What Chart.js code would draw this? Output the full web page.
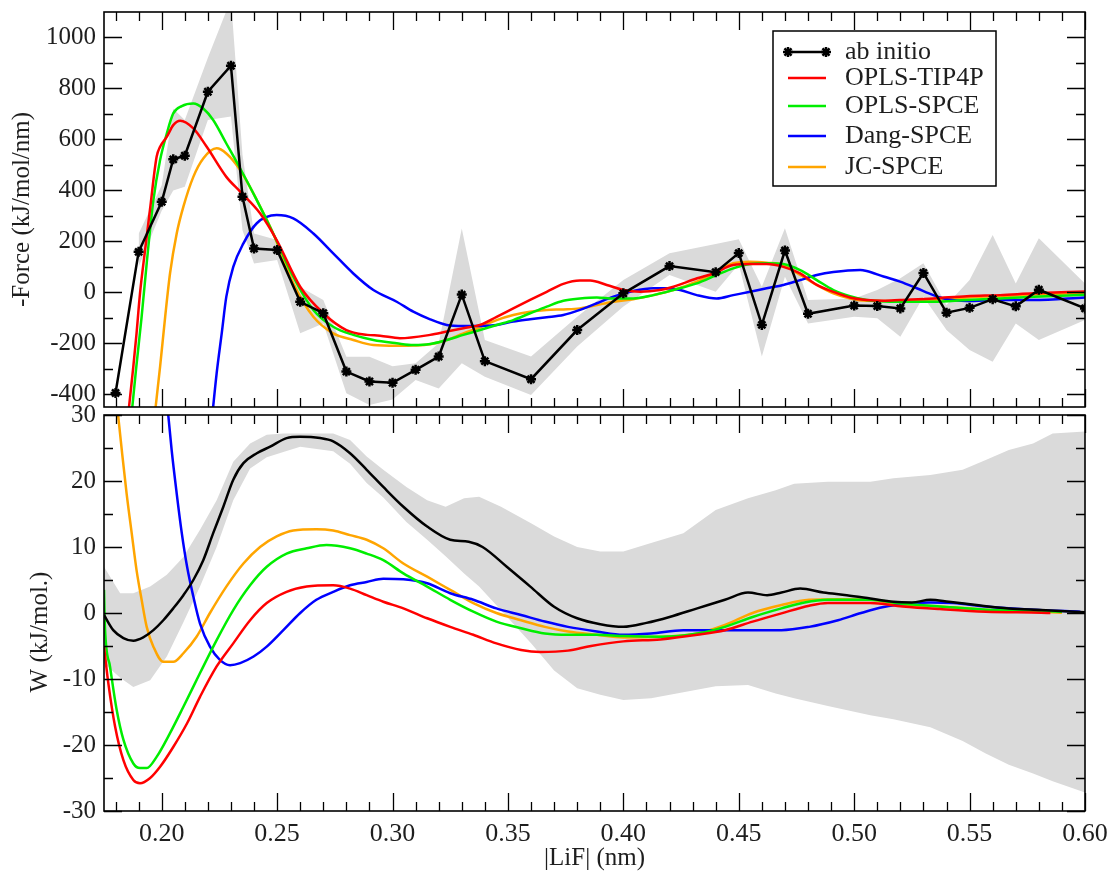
<!DOCTYPE html>
<html>
<head>
<meta charset="utf-8">
<script src="https://cdn.jsdelivr.net/npm/chart.js@4/dist/chart.umd.min.js"></script>
<style>
  html, body { margin: 0; padding: 0; background: #fff; width: 1111px; height: 871px; overflow: hidden; }
  #forceChart { position: absolute; left: 0; top: 0; }
  #pmfChart { position: absolute; left: 0; top: 395px; }
</style>
</head>
<body>
<canvas id="forceChart" width="1111" height="415"></canvas>
<canvas id="pmfChart" width="1111" height="476"></canvas>
<script>
// ---------------- tick values ----------------
const xTickValues = [0.20, 0.25, 0.30, 0.35, 0.40, 0.45, 0.50, 0.55, 0.60];
const xMinorTicks = [0.18, 0.19, 0.21, 0.22, 0.23, 0.24, 0.26, 0.27, 0.28, 0.29, 0.31, 0.32, 0.33, 0.34, 0.36, 0.37, 0.38, 0.39,
                     0.41, 0.42, 0.43, 0.44, 0.46, 0.47, 0.48, 0.49, 0.51, 0.52, 0.53, 0.54, 0.56, 0.57, 0.58, 0.59];
const forceTicks = [-400, -200, 0, 200, 400, 600, 800, 1000];
const forceMinorTicks = [-300, -100, 100, 300, 500, 700, 900];
const pmfTicks = [-30, -20, -10, 0, 10, 20, 30];
const pmfMinorTicks = [-25, -15, -5, 5, 15, 25];

// ---------------- series labels ----------------
const seriesLabels = ['ab initio', 'OPLS-TIP4P', 'OPLS-SPCE', 'Dang-SPCE', 'JC-SPCE'];

// ---------------- top panel: -Force (kJ/mol/nm) ----------------
const forceAbX = [0.18,0.19,0.20,0.205,0.21,0.22,0.23,0.235,0.24,0.25,0.26,0.27,0.28,0.29,0.30,0.31,0.32,0.33,0.34,0.36,0.38,0.40,0.42,0.44,0.45,0.46,0.47,0.48,0.50,0.51,0.52,0.53,0.54,0.55,0.56,0.57,0.58,0.60];
const forceAbY = [-395,159,355,522,536,787,889,375,172,166,-37,-82,-311,-350,-355,-304,-252,-9,-270,-341,-148,-4,103,79,154,-128,164,-84,-52,-54,-63,76,-80,-61,-27,-55,10,-63];

const forceBandX  = [0.19,0.20,0.205,0.21,0.22,0.23,0.235,0.24,0.25,0.26,0.27,0.28,0.29,0.30,0.31,0.32,0.33,0.34,0.36,0.38,0.40,0.42,0.44,0.45,0.46,0.47,0.48,0.50,0.51,0.52,0.53,0.54,0.55,0.56,0.57,0.58,0.60];
const forceBandHi = [230,420,720,676,920,1150,540,231,205,21,-30,-253,-253,-290,-278,-200,250,-187,-252,-96,48,153,190,208,22,251,-30,-24,9,55,114,-50,48,225,35,212,35];
const forceBandLo = [100,320,400,414,676,690,244,113,127,-161,-122,-396,-442,-421,-344,-377,-278,-331,-403,-213,-56,68,2,110,-252,61,-122,-96,-102,-174,-17,-148,-226,-272,-122,-187,-109];

const forceTip4pX = [0.185,0.1877,0.1891,0.1906,0.1928,0.1949,0.1978,0.1993,0.2022,0.205,0.208,0.2137,0.2195,0.228,0.234,0.2426,0.2498,0.26,0.27,0.28,0.289,0.2946,0.3032,0.3163,0.3235,0.3307,0.3379,0.3451,0.3523,0.3596,0.3668,0.374,0.3812,0.3856,0.3928,0.40,0.4073,0.4159,0.4217,0.432,0.439,0.4476,0.4549,0.4621,0.4693,0.4766,0.4838,0.491,0.4982,0.5054,0.5127,0.5199,0.5343,0.5488,0.5632,0.5777,0.60];
const forceTip4pY = [-520,-292,-161,-4,166,323,532,571,610,656,673,643,571,453,395,310,205,22,-82,-148,-167,-170,-180,-167,-154,-141,-128,-96,-63,-30,2,33,46,46,29,9,2,9,22,55,74,107,111,111,100,74,29,2,-20,-30,-33,-30,-24,-15,-11,-4,3];

const forceOplsSpceX = [0.1865,0.189,0.1913,0.1935,0.1964,0.1993,0.2022,0.205,0.2087,0.2137,0.218,0.2223,0.228,0.234,0.2412,0.2483,0.257,0.2657,0.2743,0.283,0.2917,0.3018,0.309,0.3163,0.3235,0.3307,0.3379,0.3451,0.3523,0.3596,0.3668,0.374,0.3812,0.3885,0.3957,0.4043,0.413,0.4217,0.4318,0.4404,0.4476,0.4549,0.4621,0.4693,0.4766,0.4838,0.491,0.4982,0.5054,0.5199,0.5343,0.5488,0.5632,0.5777,0.60];
const forceOplsSpceY = [-520,-292,-96,114,362,519,623,702,731,741,721,676,584,486,362,231,61,-69,-135,-167,-187,-200,-207,-203,-187,-167,-148,-128,-109,-82,-56,-33,-24,-20,-24,-24,-11,9,35,68,94,111,114,111,87,48,9,-15,-30,-37,-37,-30,-24,-17,-10];

const forceDangX = [0.2215,0.2238,0.226,0.228,0.231,0.2354,0.2412,0.2498,0.257,0.2657,0.2743,0.283,0.2917,0.3018,0.309,0.3163,0.3235,0.3307,0.3379,0.3451,0.3523,0.3596,0.3668,0.374,0.3812,0.3885,0.3957,0.4043,0.413,0.4188,0.4246,0.4318,0.4404,0.4476,0.4549,0.4621,0.4693,0.4766,0.4838,0.491,0.5026,0.5054,0.5127,0.5199,0.5271,0.5343,0.5401,0.5488,0.5632,0.5777,0.60];
const forceDangY = [-520,-318,-161,-17,100,192,271,303,290,231,153,74,9,-37,-76,-106,-128,-132,-132,-128,-115,-106,-98,-89,-69,-43,-17,5,16,16,9,-11,-24,-11,2,16,29,48,68,80,88,84,62,42,16,-11,-27,-34,-30,-30,-20];

const forceJcX = [0.1965,0.1993,0.2015,0.2036,0.2065,0.2094,0.2137,0.218,0.2238,0.228,0.234,0.2412,0.2483,0.257,0.2657,0.2743,0.283,0.2917,0.3018,0.309,0.3163,0.3235,0.3307,0.3379,0.3451,0.3523,0.3596,0.3668,0.374,0.3812,0.3885,0.3957,0.4043,0.413,0.4217,0.4318,0.4404,0.4476,0.4549,0.4621,0.4693,0.4766,0.4838,0.491,0.4982,0.5054,0.5199,0.5343,0.5488,0.5632,0.5777,0.60];
const forceJcY = [-520,-292,-96,74,231,336,453,525,565,545,480,362,231,35,-96,-161,-187,-207,-210,-209,-204,-187,-161,-137,-109,-89,-76,-69,-67,-63,-50,-37,-27,-11,9,42,80,114,120,116,107,68,29,-4,-24,-33,-34,-30,-20,-15,-9,-2];

// ---------------- bottom panel: W (kJ/mol) ----------------
const pmfAbX = [0.175,0.179,0.1834,0.1877,0.192,0.1964,0.2007,0.205,0.2094,0.2137,0.218,0.2223,0.2267,0.231,0.2354,0.2412,0.247,0.2541,0.26,0.2686,0.2743,0.2816,0.2888,0.296,0.3047,0.315,0.325,0.333,0.339,0.3495,0.3597,0.37,0.38,0.39,0.40,0.41,0.42,0.432,0.444,0.454,0.4623,0.4685,0.4766,0.4867,0.4968,0.507,0.517,0.525,0.533,0.541,0.553,0.567,0.581,0.60];
const pmfAbY = [-0.3,-2.6,-3.8,-4.2,-3.7,-2.6,-1.1,0.7,2.7,5.0,8.0,12.1,16.1,20.2,22.7,24.2,25.2,26.5,26.7,26.5,26.0,24.2,21.7,19.1,16.1,13.1,11.1,10.8,10.0,7.0,4.0,0.95,-0.8,-1.7,-2.1,-1.5,-0.6,0.7,2.0,3.1,2.7,3.1,3.7,3.1,2.7,2.2,1.7,1.6,2.0,1.7,1.2,0.7,0.45,0.1];

const pmfBandX  = [0.175,0.182,0.1877,0.195,0.2022,0.2094,0.2166,0.2238,0.231,0.2383,0.2455,0.2527,0.26,0.2743,0.2816,0.2888,0.296,0.306,0.315,0.323,0.331,0.3375,0.347,0.36,0.37,0.38,0.39,0.40,0.412,0.426,0.44,0.454,0.466,0.474,0.4886,0.507,0.517,0.533,0.547,0.557,0.567,0.5775,0.586,0.60];
const pmfBandHi = [7.0,3.0,3.0,4.0,5.8,8.5,12.6,17.1,22.9,25.7,27.0,27.2,27.2,27.2,26.2,23.7,21.7,19.1,17.1,16.1,17.4,17.6,16.1,13.6,11.6,10.0,9.3,9.3,10.6,12.1,15.6,17.4,18.6,19.6,19.9,19.9,20.4,20.9,21.7,23.2,24.7,25.7,27.2,27.5];
const pmfBandLo = [-7.6,-9.8,-11.2,-10.2,-6.6,-1.4,4.0,10.0,17.1,21.9,23.6,24.4,25.2,24.5,22.6,19.7,17.5,13.8,11.1,8.6,6.0,4.0,0.4,-4.6,-8.7,-11.4,-12.4,-13.2,-12.9,-12.0,-11.1,-10.9,-12.2,-12.9,-14.1,-15.5,-16.1,-17.3,-19.4,-21.3,-23.0,-24.3,-25.5,-27.2];

const pmfTip4pX = [0.175,0.1769,0.1798,0.1834,0.1877,0.1906,0.195,0.1993,0.205,0.211,0.2166,0.2238,0.231,0.2383,0.2455,0.2541,0.2628,0.2743,0.2816,0.2888,0.296,0.3047,0.315,0.325,0.335,0.345,0.3557,0.364,0.376,0.386,0.40,0.416,0.432,0.444,0.456,0.4685,0.4805,0.4886,0.507,0.521,0.537,0.557,0.581,0.585];
const pmfTip4pY = [-5.1,-10.7,-17.2,-22.3,-25.3,-25.8,-25.0,-23.3,-20.3,-16.7,-12.7,-8.1,-4.6,-1.1,1.5,3.2,4.0,4.2,3.7,2.7,1.7,0.7,-0.8,-2.1,-3.3,-4.6,-5.6,-5.9,-5.7,-5.0,-4.3,-4.0,-3.3,-2.6,-1.3,-0.05,1.1,1.5,1.5,1.0,0.6,0.2,0.05,0.0];

const pmfOplsSpceX = [0.175,0.1754,0.1776,0.1805,0.1834,0.1877,0.1906,0.1935,0.1978,0.2036,0.2094,0.2166,0.2238,0.231,0.2383,0.2455,0.2541,0.2628,0.2714,0.2816,0.2888,0.296,0.3047,0.315,0.325,0.335,0.345,0.3557,0.366,0.376,0.3885,0.40,0.4163,0.432,0.444,0.456,0.4685,0.4785,0.4886,0.507,0.521,0.537,0.557,0.581,0.59];
const pmfOplsSpceY = [3.5,-2.1,-8.1,-14.7,-19.2,-22.8,-23.5,-23.5,-21.8,-18.2,-14.2,-9.1,-4.1,0.45,4.2,7.0,9.0,9.8,10.3,9.8,9.0,8.0,6.0,4.0,2.0,0.2,-1.3,-2.3,-3.1,-3.3,-3.3,-3.5,-3.6,-3.1,-2.1,-0.6,0.7,1.6,2.0,2.0,1.4,1.0,0.5,0.3,0.2];

const pmfDangX = [0.2023,0.2043,0.2065,0.2087,0.211,0.2137,0.2166,0.2209,0.2252,0.2296,0.234,0.2398,0.2455,0.2527,0.26,0.267,0.2743,0.2816,0.2888,0.296,0.3047,0.315,0.325,0.335,0.345,0.3557,0.366,0.376,0.3885,0.40,0.412,0.426,0.44,0.456,0.4685,0.4805,0.493,0.503,0.5128,0.523,0.533,0.543,0.557,0.5775,0.598];
const pmfDangY = [32,24.7,18.1,12.1,7.0,2.5,-1.6,-5.1,-7.1,-7.9,-7.6,-6.6,-5.1,-2.6,0,2.0,3.2,4.2,4.7,5.2,5.1,4.5,3.0,2.0,0.7,-0.3,-1.3,-2.1,-2.8,-3.3,-3.1,-2.6,-2.6,-2.6,-2.6,-2.1,-1.1,0,0.9,1.4,1.6,1.5,1.0,0.5,0.2];

const pmfJcX = [0.1805,0.1827,0.1848,0.187,0.1891,0.1913,0.1935,0.1964,0.2007,0.205,0.2094,0.2151,0.2209,0.228,0.2354,0.2426,0.2498,0.257,0.267,0.2743,0.2816,0.2888,0.296,0.3047,0.315,0.325,0.335,0.345,0.3557,0.366,0.376,0.3885,0.40,0.4163,0.432,0.444,0.456,0.4685,0.4805,0.493,0.507,0.521,0.537,0.557,0.59];
const pmfJcY = [32,24.7,18.1,12.1,6.5,2.0,-2.1,-5.1,-7.4,-7.4,-6.1,-3.6,0,4.0,7.5,10.0,11.6,12.5,12.7,12.5,11.8,11.1,9.8,7.5,5.5,3.5,1.5,0,-1.1,-2.1,-2.8,-3.3,-3.7,-3.6,-3.1,-1.8,0,1.2,2.0,2.1,2.0,1.2,1.0,0.5,0.05];

// ---------------- styling ----------------
const FONT = "'Liberation Serif', 'Times New Roman', serif";
const TXT = '#1e1e1e';
const COLORS = ['#000000', '#ff0000', '#00ee00', '#0000ff', '#ffa500'];
const BAND = '#dadada';

function zip(xs, ys) { return xs.map((x, i) => ({ x: x, y: ys[i] })); }

function lineSet(label, color, xs, ys, order) {
  return { label, data: zip(xs, ys), borderColor: color, backgroundColor: color,
           borderWidth: 2.5, pointRadius: 0, fill: false, cubicInterpolationMode: 'monotone', order };
}
function bandSets(xs, lo, hi) {
  return [
    { label: 'band-lo', isBand: true, data: zip(xs, lo), borderColor: 'rgba(0,0,0,0)', borderWidth: 1,
      pointRadius: 0, fill: false, tension: 0, order: 9 },
    { label: 'band-hi', isBand: true, data: zip(xs, hi), borderColor: 'rgba(0,0,0,0)', borderWidth: 1,
      backgroundColor: BAND, pointRadius: 0, fill: '-1', tension: 0, order: 9 }
  ];
}

function drawStar(ctx, x, y, r) {
  ctx.beginPath();
  for (let k = 0; k < 4; k++) {
    const a = k * Math.PI / 4;
    ctx.moveTo(x - r * Math.cos(a), y - r * Math.sin(a));
    ctx.lineTo(x + r * Math.cos(a), y + r * Math.sin(a));
  }
  ctx.stroke();
}

// frame + inward ticks on all four sides
const frameTicks = {
  id: 'frameTicks',
  afterDatasetsDraw(chart, args, o) {
    const { ctx, chartArea: a, scales } = chart;
    const sx = scales.x, sy = scales.y;
    ctx.save();
    ctx.strokeStyle = '#000';
    ctx.lineWidth = 1.3;
    ctx.beginPath();
    const seg = (x1, y1, x2, y2) => { ctx.moveTo(x1, y1); ctx.lineTo(x2, y2); };
    const xs = (vals, len) => vals.forEach(v => {
      const p = Math.round(sx.getPixelForValue(v)) + 0.5;
      seg(p, a.bottom, p, a.bottom - len); seg(p, a.top, p, a.top + len);
    });
    const ys = (vals, len) => vals.forEach(v => {
      const p = Math.round(sy.getPixelForValue(v)) + 0.5;
      seg(a.left, p, a.left + len, p); seg(a.right, p, a.right - len, p);
    });
    xs(o.xMajor, 18); xs(o.xMinor, 9); ys(o.yMajor, 18); ys(o.yMinor, 9);
    ctx.stroke();
    ctx.lineWidth = 1.6;
    ctx.strokeRect(a.left, a.top, a.right - a.left, a.bottom - a.top);
    ctx.restore();
  }
};

// boxed legend inside the top panel
const boxLegend = {
  id: 'boxLegend',
  afterDraw(chart, args, o) {
    if (!o || !o.show) return;
    const ctx = chart.ctx;
    ctx.save();
    ctx.fillStyle = '#fff';
    ctx.fillRect(o.left, o.top, o.width, o.height);
    ctx.strokeStyle = '#000'; ctx.lineWidth = 1.5;
    ctx.strokeRect(o.left, o.top, o.width, o.height);
    const items = chart.data.datasets.filter(d => !d.isBand);
    items.forEach((d, i) => {
      const y = o.rowY[i];
      ctx.strokeStyle = d.borderColor; ctx.lineWidth = 2.5;
      ctx.beginPath(); ctx.moveTo(o.x0, y); ctx.lineTo(o.x1, y); ctx.stroke();
      if (d.pointRadius > 0) { drawStar(ctx, o.x0, y, 5); drawStar(ctx, o.x1, y, 5); }
      ctx.fillStyle = TXT;
      ctx.font = '26px ' + FONT;
      ctx.textAlign = 'left'; ctx.textBaseline = 'middle';
      ctx.fillText(d.label, o.textX, y);
    });
    ctx.restore();
  }
};

// rotated side title (placed like the original, slightly below panel centre)
const sideTitle = {
  id: 'sideTitle',
  afterDraw(chart, args, o) {
    if (!o || !o.text) return;
    const ctx = chart.ctx;
    ctx.save();
    ctx.translate(o.x, o.y);
    ctx.rotate(-Math.PI / 2);
    ctx.font = '25px ' + FONT;
    ctx.fillStyle = TXT; ctx.textAlign = 'center'; ctx.textBaseline = 'middle';
    ctx.fillText(o.text, 0, 0);
    ctx.restore();
  }
};

Chart.register(frameTicks, boxLegend, sideTitle);

const common = {
  responsive: false, animation: false, events: [],
  plugins: { legend: { display: false }, tooltip: { enabled: false } }
};

// ---------------- top chart ----------------
const starStyle = {
  pointStyle: 'star', pointRadius: 5, pointBorderWidth: 2.5, pointBorderColor: '#000', pointBackgroundColor: '#000'
};
new Chart(document.getElementById('forceChart'), {
  type: 'line',
  data: {
    datasets: [
      Object.assign({ label: seriesLabels[0], data: zip(forceAbX, forceAbY), borderColor: COLORS[0], backgroundColor: COLORS[0],
        borderWidth: 2.5, fill: false, tension: 0, order: 0 }, starStyle),
      lineSet(seriesLabels[1], COLORS[1], forceTip4pX, forceTip4pY, 1),
      lineSet(seriesLabels[2], COLORS[2], forceOplsSpceX, forceOplsSpceY, 1),
      lineSet(seriesLabels[3], COLORS[3], forceDangX, forceDangY, 1),
      lineSet(seriesLabels[4], COLORS[4], forceJcX, forceJcY, 1),
      ...bandSets(forceBandX, forceBandLo, forceBandHi)
    ]
  },
  options: Object.assign({}, common, {
    layout: { padding: { left: 0, right: 26, top: 12, bottom: 8 } },
    scales: {
      x: { type: 'linear', min: 0.175, max: 0.60, display: false },
      y: {
        type: 'linear', min: -450, max: 1100,
        afterBuildTicks: s => { s.ticks = forceTicks.map(v => ({ value: v })); },
        afterFit: s => { s.width = 104; s.paddingTop = 0; s.paddingBottom = 0; },
        grid: { display: false, drawTicks: false }, border: { display: false },
        ticks: { font: { family: FONT, size: 25 }, color: TXT, padding: 8, autoSkip: false,
                 callback: v => String(v) },
        title: { display: true, text: '-Force (kJ/mol/nm)', color: TXT,
                 font: { family: FONT, size: 25, lineHeight: 1 }, padding: { top: 10, bottom: 0 } }
      }
    },
    plugins: Object.assign({}, common.plugins, {
      frameTicks: { xMajor: xTickValues, xMinor: xMinorTicks, yMajor: forceTicks, yMinor: forceMinorTicks },
      boxLegend: { show: true, left: 773, top: 31, width: 223, height: 155, x0: 788, x1: 826, textX: 845,
                   rowY: [52, 78, 106, 136, 167] }
    })
  })
});

// ---------------- bottom chart ----------------
new Chart(document.getElementById('pmfChart'), {
  type: 'line',
  data: {
    datasets: [
      { label: seriesLabels[0], data: zip(pmfAbX, pmfAbY), borderColor: COLORS[0], backgroundColor: COLORS[0],
        borderWidth: 2.5, pointRadius: 0, fill: false, cubicInterpolationMode: 'monotone', order: 0 },
      lineSet(seriesLabels[1], COLORS[1], pmfTip4pX, pmfTip4pY, 1),
      lineSet(seriesLabels[2], COLORS[2], pmfOplsSpceX, pmfOplsSpceY, 1),
      lineSet(seriesLabels[3], COLORS[3], pmfDangX, pmfDangY, 1),
      lineSet(seriesLabels[4], COLORS[4], pmfJcX, pmfJcY, 1),
      ...bandSets(pmfBandX, pmfBandLo, pmfBandHi)
    ]
  },
  options: Object.assign({}, common, {
    layout: { padding: { left: 0, right: 26, top: 20, bottom: 0 } },
    scales: {
      x: {
        type: 'linear', min: 0.175, max: 0.60, position: 'bottom',
        afterBuildTicks: s => { s.ticks = xTickValues.map(v => ({ value: v })); },
        afterFit: s => { s.height = 60; s.paddingLeft = 0; s.paddingRight = 0; },
        grid: { display: false, drawTicks: false }, border: { display: false },
        ticks: { font: { family: FONT, size: 26 }, color: TXT, padding: 8, autoSkip: false, maxRotation: 0,
                 callback: v => Number(v).toFixed(2) },
        title: { display: true, text: '|LiF| (nm)', color: TXT,
                 font: { family: FONT, size: 25, lineHeight: 1 }, padding: { top: 0, bottom: 0 } }
      },
      y: {
        type: 'linear', min: -30, max: 30,
        afterBuildTicks: s => { s.ticks = pmfTicks.map(v => ({ value: v })); },
        afterFit: s => { s.width = 104; s.paddingTop = 0; s.paddingBottom = 0; },
        grid: { display: false, drawTicks: false }, border: { display: false },
        ticks: { font: { family: FONT, size: 25 }, color: TXT, padding: 8, autoSkip: false,
                 callback: v => String(v) }
      }
    },
    plugins: Object.assign({}, common.plugins, {
      frameTicks: { xMajor: xTickValues, xMinor: xMinorTicks, yMajor: pmfTicks, yMinor: pmfMinorTicks },
      sideTitle: { text: 'W (kJ/mol.)', x: 40, y: 237 }
    })
  })
});
</script>
</body>
</html>
